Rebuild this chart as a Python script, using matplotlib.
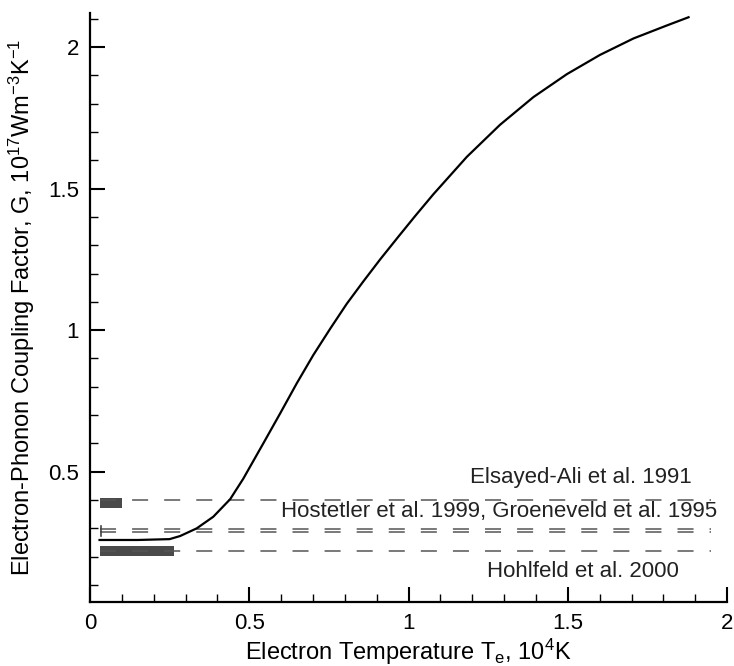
import numpy as np
import matplotlib
matplotlib.use("Agg")
import matplotlib.pyplot as plt
from matplotlib.ticker import MultipleLocator, FormatStrFormatter

plt.rcParams['font.family'] = ['Liberation Sans', 'DejaVu Sans']
plt.rcParams['mathtext.default'] = 'regular'

# calculated coupling factor G(Te)
te = [0.03, 0.15, 0.25, 0.283, 0.335, 0.387, 0.44, 0.481, 0.544, 0.597, 0.649,
      0.701, 0.754, 0.806, 0.858, 0.911, 0.968, 1.02, 1.078, 1.183, 1.287, 1.392,
      1.497, 1.601, 1.706, 1.811, 1.879]
g = [0.259, 0.259, 0.262, 0.273, 0.300, 0.341, 0.403, 0.475, 0.600, 0.706, 0.812,
     0.912, 1.005, 1.093, 1.172, 1.250, 1.330, 1.402, 1.480, 1.612, 1.725, 1.823,
     1.904, 1.972, 2.030, 2.076, 2.105]

# experimental values (dashed reference lines)
exp_values = [0.40, 0.297, 0.286, 0.221]
exp_xrange = [0.03, 1.95]

# experimental temperature ranges shown as grey bars
bar_values = [0.39, 0.221]
bar_start = [0.03, 0.03]
bar_end = [0.10, 0.265]

# labels for the experiments
labels = ["Elsayed-Ali et al. 1991",
          "Hostetler et al. 1999, Groeneveld et al. 1995",
          "Hohlfeld et al. 2000"]
label_x = [1.89, 1.97, 1.85]
label_y = [0.478, 0.358, 0.146]

fig = plt.figure(figsize=(7.34, 6.66), dpi=100)
ax = fig.add_axes([0.1226, 0.0961, 0.868, 0.8844])

for v in exp_values:
    ax.plot(exp_xrange, [v, v], color='#555555', lw=1.1, dashes=(10.5, 10.5))

for v, x0, x1 in zip(bar_values, bar_start, bar_end):
    ax.fill_between([x0, x1], v - 0.018, v + 0.018, color='#4a4a4a', lw=0)

# small error bar for Hostetler
ax.plot([0.034, 0.034], [0.272, 0.31], color='#444444', lw=1.2)

ax.plot(te, g, color='black', lw=1.6)

for txt, x, y in zip(labels, label_x, label_y):
    ax.text(x, y, txt, ha='right', va='center', fontsize=16, color='#222222')

ax.set_xlim(0, 2)
ax.set_ylim(0.04, 2.12)
ax.xaxis.set_major_locator(MultipleLocator(0.5))
ax.xaxis.set_minor_locator(MultipleLocator(0.1))
ax.yaxis.set_major_locator(MultipleLocator(0.5))
ax.yaxis.set_minor_locator(MultipleLocator(0.1))
ax.xaxis.set_major_formatter(FormatStrFormatter('%g'))
ax.yaxis.set_major_formatter(FormatStrFormatter('%g'))
ax.set_yticks([0.5, 1, 1.5, 2])

for s in ['top', 'right']:
    ax.spines[s].set_visible(False)
for s in ['left', 'bottom']:
    ax.spines[s].set_linewidth(1.6)

ax.tick_params(which='major', direction='in', length=11, width=1.5, labelsize=16, pad=8)
ax.tick_params(which='minor', direction='in', length=6, width=1.0)

ax.set_xlabel('Electron Temperature T$_e$, 10$^4$K', fontsize=17, labelpad=2)
ax.set_ylabel('Electron-Phonon Coupling Factor, G, 10$^{17}$Wm$^{-3}$K$^{-1}$',
              fontsize=17, labelpad=8)

fig.savefig('out.png', dpi=100)
